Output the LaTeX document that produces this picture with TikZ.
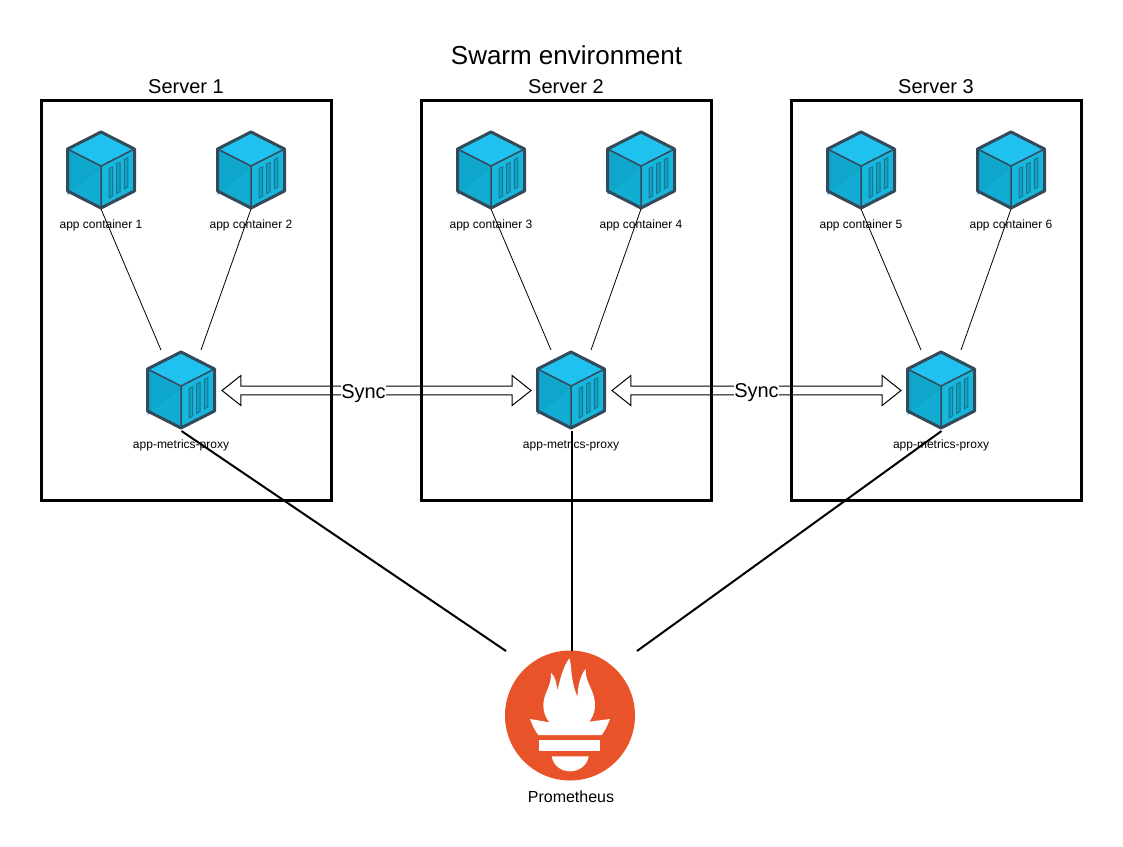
\documentclass[tikz,border=0pt]{standalone}
\usepackage{fontspec}
\setmainfont{Liberation Sans}
\usepackage{xcolor}
\definecolor{cubetop}{HTML}{1FC2EF}
\definecolor{cubeleft}{HTML}{0FA6CB}
\definecolor{cubeleftb}{HTML}{12ADD2}
\definecolor{cuberight}{HTML}{16B6DD}
\definecolor{cubeline}{HTML}{34495A}
\definecolor{cubeslot}{HTML}{10A0C4}
\definecolor{slotline}{HTML}{1B7590}
\definecolor{promred}{HTML}{E95329}
\usetikzlibrary{positioning,shapes.arrows}
\tikzset{
  lbl/.style={font=\fontsize{12}{14}\selectfont, inner sep=0pt},
  hostbox/.style={draw, line width=3pt, minimum width=290pt, minimum height=400pt, outer sep=0pt},
  hosttitle/.style={font=\fontsize{20}{24}\selectfont, inner sep=0pt},
  syncarrow/.style={draw, line width=1pt, double arrow, double arrow tip angle=77,
    double arrow head extend=10.25pt, minimum width=30pt, inner sep=3.75pt, outer sep=0pt},
  synclbl/.style={fill=white, font=\fontsize{20}{24}\selectfont, inner sep=0pt, minimum height=20pt},
  cube/.pic={
    \fill[cubetop] (0,-38) -- (33.5,-21) -- (0,-4) -- (-33.5,-21) -- cycle;
    \fill[cubeleft] (-33.5,-21) -- (0,-4) -- (0,38) -- (-33.5,21) -- cycle;
    \fill[cubeleftb] (-33.5,25) -- (0,-1) -- (0,38) -- (-33.5,21) -- cycle;
    \fill[cuberight] (33.5,-21) -- (0,-4) -- (0,38) -- (33.5,21) -- cycle;
    \foreach \k in {0,1,2}{
      \draw[slotline, fill=cubeslot, line width=1pt, shift={(7.7*\k,-4.6*\k)}]
        (8,-1.5) -- (11.5,-3) -- (11.5,26) -- (8,28) -- cycle;
    }
    \draw[cubeline, line width=3pt, line join=round]
      (0,-38) -- (33.5,-21) -- (33.5,21) -- (0,38) -- (-33.5,21) -- (-33.5,-21) -- cycle;
    \draw[cubeline, line width=1.5pt, line join=round] (-33.5,-21) -- (0,-4) -- (33.5,-21) (0,-4) -- (0,38);
    \coordinate (-b) at (0,39);
    \coordinate (-f) at (0.5,41);
    \coordinate (-l) at (-20,-40);
    \coordinate (-r) at (20,-40);
  }
}
\begin{document}
\begin{tikzpicture}[x=1pt,y=-1pt]
  \useasboundingbox (0,0) rectangle (1123,846);

  \node[font=\fontsize{26}{30}\selectfont, inner sep=0pt] (title) at (566.5,55) {Swarm environment};

  % servers
  \foreach \x/\i in {186/1,566/2,936/3}{
    \node[hostbox] (s\i) at (\x,300) {};
    \node[hosttitle, above=6pt of s\i] (st\i) {Server \i};
  }

  % app containers
  \foreach \x/\i in {101/1,251/2,491/3,641/4,861/5,1011/6}{
    \pic (c\i) at (\x,170) {cube};
    \node[lbl] (cl\i) at (\x,225) {app container \i};
  }

  % proxies
  \foreach \x/\i in {181/1,571/2,941/3}{
    \pic (p\i) at (\x,390) {cube};
    \node[lbl] (pl\i) at (\x,445) {app-metrics-proxy};
  }

  \foreach \a/\b/\p in {1/2/1,3/4/2,5/6/3}{
    \draw[line width=0.8pt] (c\a-b) -- (p\p-l);
    \draw[line width=0.8pt] (c\b-b) -- (p\p-r);
  }

  % sync
  \node[syncarrow, minimum height=309pt] (arr1) at (376.5,390.5) {};
  \node[syncarrow, minimum height=289pt] (arr2) at (756.5,390.5) {};
  \node[synclbl] (sync1) at (363.5,394) {Sync};
  \node[synclbl] (sync2) at (756.5,392.5) {Sync};

  % prometheus
  \node[circle, fill=promred, minimum size=130pt, inner sep=0pt, outer sep=0pt] (prom) at (570,715.5) {};
  \begin{scope}[shift={(490,640)},x=0.3333pt,y=-0.3333pt]
    \fill[white] (238,55) .. controls (247,80) and (240,120) .. (263,172)
      .. controls (262,140) and (272,105) .. (287,86)
      .. controls (285,130) and (315,150) .. (315,195)
      .. controls (315,220) and (305,235) .. (298,245)
      -- (360,237) .. controls (352,258) and (345,272) .. (335,285)
      -- (145,285) .. controls (135,272) and (128,258) .. (120,237)
      -- (178,247) .. controls (165,230) and (160,215) .. (160,195)
      .. controls (160,160) and (185,140) .. (183,98)
      .. controls (197,110) and (200,135) .. (203,153)
      .. controls (208,120) and (222,75) .. (238,55) -- cycle;
    \fill[white] (148,301) rectangle (331,334);
    \fill[white] (185,349) -- (296,349) .. controls (292,378) and (265,394) .. (240,394)
      .. controls (215,394) and (190,378) .. (185,349) -- cycle;
  \end{scope}
  \node[font=\fontsize{16}{19}\selectfont, inner sep=0pt] (promlbl) at (571,796.5) {Prometheus};

  \coordinate (pl) at (506,651);
  \coordinate (pr) at (637,651);
  \draw[line width=2pt] (p1-f) -- (pl);
  \draw[line width=2pt] (p2-f) -- (p2-f |- prom.north);
  \draw[line width=2pt] (p3-f) -- (pr);
\end{tikzpicture}
\end{document}
